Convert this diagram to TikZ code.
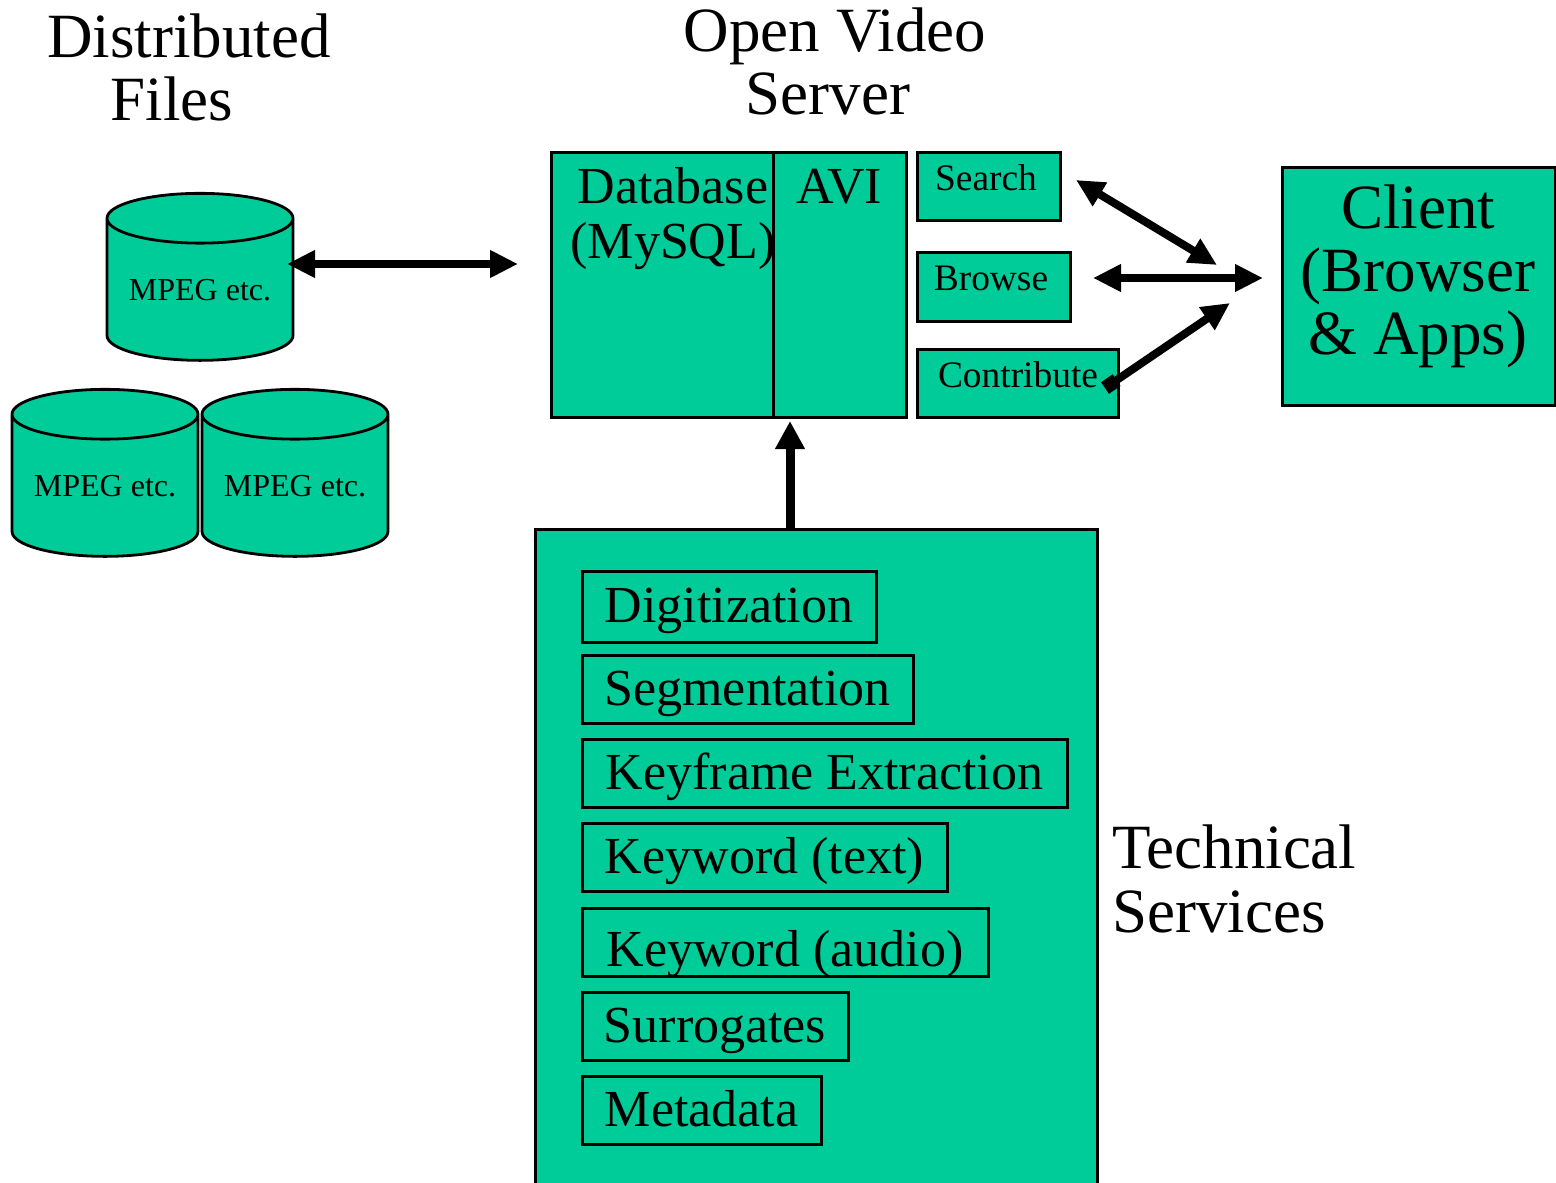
\documentclass[tikz,border=0pt]{standalone}
\usepackage{fontspec}
\setmainfont{Liberation Serif}
\usetikzlibrary{positioning, arrows.meta, shapes.geometric}
\definecolor{boxGreen}{HTML}{00CC99}

\begin{document}
\begin{tikzpicture}[
    x=0.5pt, y=-0.5pt,
    box/.style={%
      draw,
      rectangle,
      fill=boxGreen,
      line width=1.5pt,
      inner sep=0pt,
      outer sep=0pt,
      anchor=north west,
    },
    svc/.style={%
      box,
      font=\fontsize{26}{30}\selectfont,
      minimum height=34pt,
      text height=20pt,
      text depth=4pt,
    },
    disk/.style={%
      draw,
      cylinder,
      shape border rotate=90,
      cylinder uses custom fill,
      cylinder body fill=boxGreen,
      cylinder end fill=boxGreen,
      aspect=0.35,
      line width=1.4pt,
      minimum width=93pt,
      minimum height=83.5pt,
      inner sep=0pt,
      outer sep=0pt,
      font=\fontsize{16}{18}\selectfont,
    },
    caption/.style={%
      font=\fontsize{31.5}{32}\selectfont,
      inner sep=0pt,
      anchor=base,
    },
    clientlabel/.style={%
      font=\fontsize{31.5}{32}\selectfont,
      inner sep=0pt,
      anchor=base,
    },
    biglabel/.style={%
      font=\fontsize{26}{27}\selectfont,
      inner sep=0pt,
      anchor=base,
    },
    smalllabel/.style={%
      font=\fontsize{18.7}{20}\selectfont,
      inner sep=0pt,
      anchor=base,
    },
    link/.style={%
      line width=4pt,
      {Triangle[length=14pt,width=13pt]}-{Triangle[length=14pt,width=13pt]},
    },
  ]

    \useasboundingbox (0,0) rectangle (1556,1182);

    % disks
    \node [disk] (diskA) at (200,290) {MPEG etc.};
    \node [disk] (diskB) at (105,486) {MPEG etc.};
    \node [disk] (diskC) at (295,486) {MPEG etc.};

    % headings
    \node [caption] (filesA) at (189,58) {Distributed};
    \node [caption] (filesB) at (172,121) {Files};
    \node [caption] (serverA) at (835,52) {Open Video};
    \node [caption] (serverB) at (828,115) {Server};
    \node [caption, anchor=base west] (techA) at (1112,868) {Technical};
    \node [caption, anchor=base west] (techB) at (1112,932) {Services};

    % server
    \node [box, minimum width=111pt, minimum height=132pt] (db) at (551,153) {};
    \node [box, minimum width=66.5pt, minimum height=132pt] (avi) at (773,153) {};
    \node [biglabel] (dbA) at (673,204) {Database};
    \node [biglabel] (dbB) at (673,258) {(MySQL)};
    \node [biglabel] (aviText) at (839,204) {AVI};

    \node [box, minimum width=71.5pt, minimum height=34pt] (search) at (917,153) {};
    \node [box, minimum width=76.5pt, minimum height=34.5pt] (browse) at (917,252) {};
    \node [box, minimum width=100.5pt, minimum height=34pt] (contribute) at (917,349) {};
    \node [smalllabel] (searchText) at (986,191) {Search};
    \node [smalllabel] (browseText) at (991,290) {Browse};
    \node [smalllabel] (contributeText) at (1018,387) {Contribute};

    % client
    \node [box, minimum width=136.5pt, minimum height=118.5pt] (client) at (1282,168) {};
    \node [clientlabel] (clientA) at (1418,228) {Client};
    \node [clientlabel] (clientB) at (1418,291) {(Browser};
    \node [clientlabel] (clientC) at (1418,354) {\& Apps)};

    % technical services
    \node [box, minimum width=281pt, minimum height=330pt] (tech) at (535,529) {};
    \node [svc, minimum width=147pt, minimum height=35.5pt] (digit) at (582,571) {Digitization};
    \node [svc, minimum width=165.5pt] (segment) at (582,655) {Segmentation};
    \node [svc, minimum width=242.5pt] (keyframe) at (582,739) {Keyframe Extraction};
    \node [svc, minimum width=182.5pt] (kwText) at (582,823) {Keyword (text)};
    \node [svc, minimum width=203pt] (kwAudio) at (582,908) {\raisebox{-4pt}{Keyword (audio)}};
    \node [svc, minimum width=133pt] (surrogate) at (582,992) {Surrogates};
    \node [svc, minimum width=119.5pt] (meta) at (582,1076) {Metadata};

    % free ends of the arrows
    \coordinate (diskOut) at (287,264);
    \coordinate (dbIn) at (518,264);
    \coordinate (searchOut) at (1076,180);
    \coordinate (searchIn) at (1217,265);
    \coordinate (browseOut) at (1093,278);
    \coordinate (browseIn) at (1263,278);
    \coordinate (contributeOut) at (1105,388);
    \coordinate (contributeIn) at (1230,303);
    \coordinate (techOut) at (790,529);
    \coordinate (aviIn) at (790,421);

    \draw [link] (diskOut) -- (dbIn);
    \draw [link] (searchOut) -- (searchIn);
    \draw [link] (browseOut) -- (browseIn);
    \draw [line width=4pt, {Square[length=7pt,width=7pt]}-{Triangle[length=14pt,width=13pt]}] (contributeOut) -- (contributeIn);
    \draw [line width=4.5pt, -{Triangle[length=14pt,width=14pt]}] (techOut) -- (aviIn);
\end{tikzpicture}
\end{document}
